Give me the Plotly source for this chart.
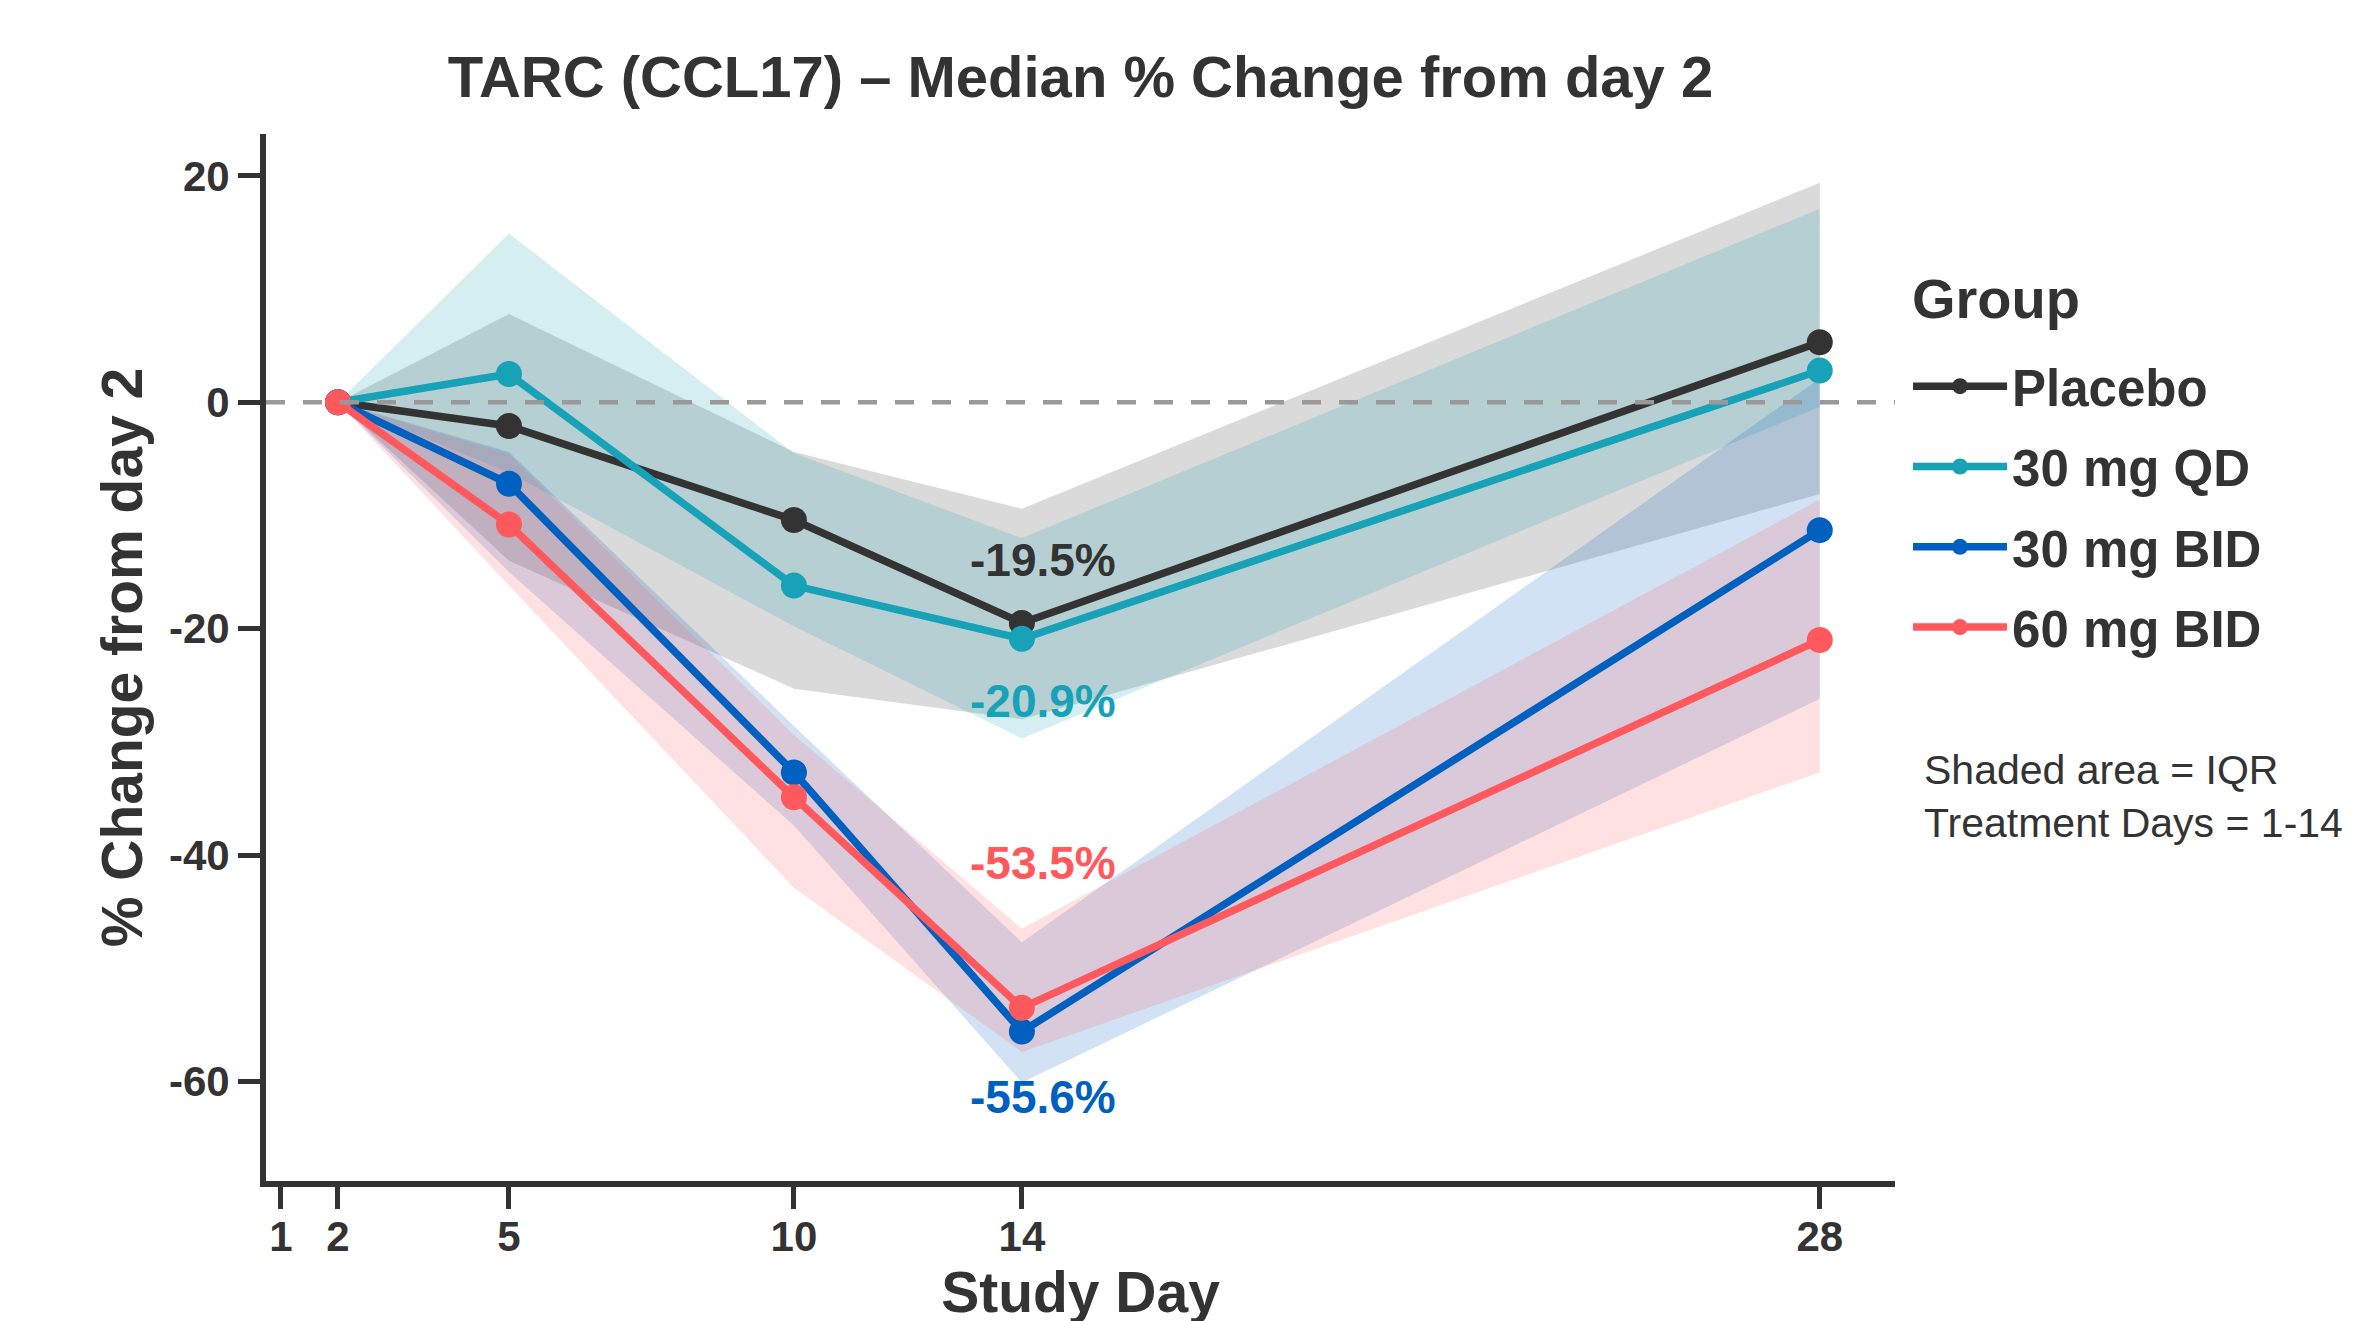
import plotly.graph_objects as go

days = [2, 5, 10, 14, 28]
groups = ["Placebo", "30 mg QD", "30 mg BID", "60 mg BID"]
colors = ["#333333", "#17A2B8", "#0060C0", "#FF595E"]
band_colors = ["rgba(51,51,51,0.18)", "rgba(23,162,184,0.18)",
               "rgba(0,96,192,0.18)", "rgba(255,89,94,0.18)"]

placebo_median = [0, -2.1, -10.4, -19.5, 5.3]
placebo_q1 = [0, -14.0, -25.3, -28.0, -8.1]
placebo_q3 = [0, 7.8, -4.4, -9.4, 19.4]

qd30_median = [0, 2.5, -16.2, -20.9, 2.8]
qd30_q1 = [0, -6.2, -19.8, -29.7, -0.4]
qd30_q3 = [0, 14.9, -4.5, -12.0, 17.1]

bid30_median = [0, -7.2, -32.7, -55.6, -11.3]
bid30_q1 = [0, -15.0, -37.4, -60.1, -26.2]
bid30_q3 = [0, -4.4, -28.6, -47.7, 2.1]

bid60_median = [0, -10.8, -34.9, -53.5, -21.0]
bid60_q1 = [0, -16.2, -42.9, -57.4, -32.7]
bid60_q3 = [0, -4.6, -29.4, -46.5, -8.6]

medians = [placebo_median, qd30_median, bid30_median, bid60_median]
q1s = [placebo_q1, qd30_q1, bid30_q1, bid60_q1]
q3s = [placebo_q3, qd30_q3, bid30_q3, bid60_q3]

label_day = 14
label_texts = ["-19.5%", "-20.9%", "-55.6%", "-53.5%"]
label_y = [-13.9, -26.4, -61.4, -40.7]

x_tickvals = [1, 2, 5, 10, 14, 28]
y_tickvals = [-60, -40, -20, 0, 20]
y_ticktext = ["-60", "-40", "-20", "0", "20"]

FONT = "Liberation Sans, Arial, sans-serif"
INK = "#333333"

fig = go.Figure()

for g, c, bc, q1, q3 in zip(groups, colors, band_colors, q1s, q3s):
    fig.add_trace(go.Scatter(
        x=days + days[::-1], y=q3 + q1[::-1], fill="toself",
        fillcolor=bc, line=dict(width=0), mode="lines",
        hoverinfo="skip", showlegend=False))

for g, c, m in zip(groups, colors, medians):
    fig.add_trace(go.Scatter(
        x=days, y=m, mode="lines+markers", name=g, legendgroup=g,
        line=dict(color=c, width=7.5), marker=dict(color=c, size=26)))

for t, yv, c in zip(label_texts, label_y, colors):
    fig.add_annotation(x=label_day, y=yv, xshift=21, text=t, showarrow=False,
                       font=dict(family=FONT, size=46, color=c, weight="bold"),
                       xanchor="center", yanchor="middle")

fig.add_hline(y=0, line=dict(color="#999999", width=4.5, dash="19px,18px"), layer="above")

# legend heading
fig.add_annotation(xref="paper", yref="paper", x=1.009, y=0.843,
                   text="Group", showarrow=False, xanchor="left", yanchor="middle",
                   font=dict(family=FONT, size=56, color=INK, weight="bold"))

fig.add_annotation(xref="paper", yref="paper", x=1.0165, y=0.367,
                   text="Shaded area = IQR<br>Treatment Days = 1-14",
                   showarrow=False, align="left", xanchor="left", yanchor="middle",
                   font=dict(family=FONT, size=41, color=INK))

axis_common = dict(showline=True, linecolor=INK, linewidth=6, ticks="outside",
                   ticklen=22, tickwidth=5, tickcolor=INK, showgrid=False,
                   zeroline=False,
                   tickfont=dict(family=FONT, size=42, color=INK, weight="bold"))

fig.update_xaxes(range=[0.737, 29.32], tickvals=x_tickvals, ticklabelstandoff=-8,
                 title=dict(text="Study Day", standoff=12,
                            font=dict(family=FONT, size=57, color=INK, weight="bold")),
                 **axis_common)
fig.update_yaxes(range=[-68.8, 23.7], tickvals=y_tickvals, ticktext=y_ticktext,
                 title=dict(text="% Change from day 2", standoff=10,
                            font=dict(family=FONT, size=57, color=INK, weight="bold")),
                 **axis_common)

fig.update_layout(
    width=2355, height=1321,
    margin=dict(l=258, r=468, t=126, b=148),
    plot_bgcolor="white", paper_bgcolor="white",
    title=dict(text="TARC (CCL17) \u2013 Median % Change from day 2",
               x=0.5, xref="paper", y=1 - 69 / 1321, yref="container",
               xanchor="center", yanchor="middle",
               font=dict(family=FONT, size=58, color=INK, weight="bold")),
    legend=dict(x=1.008, y=0.797, xanchor="left", yanchor="top",
                font=dict(family=FONT, size=51, color=INK, weight="bold"),
                itemwidth=94, tracegroupgap=11, bgcolor="rgba(0,0,0,0)"),
    showlegend=True,
)

fig.write_html("out.html")
